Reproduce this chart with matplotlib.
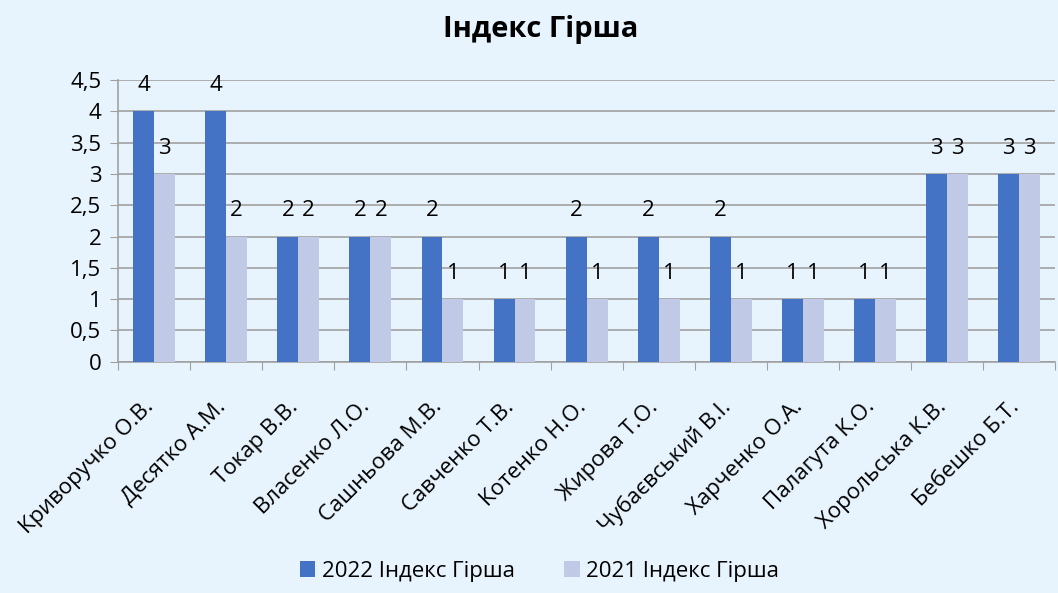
import matplotlib.pyplot as plt
import matplotlib.transforms as mtransforms
import numpy as np

plt.rcParams['font.family'] = ['Open Sans', 'DejaVu Sans']

# дані
names = ["Криворучко О.В.", "Десятко А.М.", "Токар В.В.", "Власенко Л.О.",
         "Сашньова М.В.", "Савченко Т.В.", "Котенко Н.О.", "Жирова Т.О.",
         "Чубаєвський В.І.", "Харченко О.А.", "Палагута К.О.",
         "Хорольська К.В.", "Бебешко Б.Т."]
h2022 = [4, 4, 2, 2, 2, 1, 2, 2, 2, 1, 1, 3, 3]
h2021 = [3, 2, 2, 2, 1, 1, 1, 1, 1, 1, 1, 3, 3]
yticks = [0, 0.5, 1, 1.5, 2, 2.5, 3, 3.5, 4, 4.5]
ytick_labels = ["0", "0,5", "1", "1,5", "2", "2,5", "3", "3,5", "4", "4,5"]

bg = "#E8F4FD"
c2022 = "#4472C4"
c2021 = "#C0CAE6"
fs = 16

fig = plt.figure(figsize=(10.58, 5.93), dpi=100, facecolor=bg)
ax = fig.add_axes([0.1115, 0.39, 0.886, 0.475])
ax.set_facecolor(bg)

x = np.arange(len(names))
w = 0.29
b1 = ax.bar(x - w / 2, h2022, w, color=c2022, label="2022 Індекс Гірша", zorder=3)
b2 = ax.bar(x + w / 2, h2021, w, color=c2021, label="2021 Індекс Гірша", zorder=3)
for bars in (b1, b2):
    ax.bar_label(bars, padding=11, fontsize=fs)

ax.set_xlim(-0.5, len(names) - 0.5)
ax.set_ylim(0, 4.5)
ax.set_yticks(yticks)
ax.set_yticklabels(ytick_labels, fontsize=fs)
ax.yaxis.grid(True, color="#A0A0A0", linewidth=1.2, zorder=0)

ax.set_xticks(np.arange(len(names) + 1) - 0.5, minor=False)
ax.set_xticklabels([])
ax.set_xticks(x, minor=True)
ax.set_xticklabels(names, minor=True, rotation=45, ha="right",
                   rotation_mode="anchor", fontsize=fs)
ax.tick_params(axis="x", which="minor", length=0, pad=25)
ax.tick_params(axis="x", which="major", length=6, color="#A0A0A0")
ax.tick_params(axis="y", length=6, color="#A0A0A0", pad=6)

# зсув підписів трохи ліворуч
shift = mtransforms.ScaledTranslation(-8 / 72, 0, fig.dpi_scale_trans)
for lbl in ax.get_xticklabels(minor=True):
    lbl.set_transform(lbl.get_transform() + shift)

for s in ["top", "right"]:
    ax.spines[s].set_visible(False)
for s in ["left", "bottom"]:
    ax.spines[s].set_color("#A0A0A0")
    ax.spines[s].set_linewidth(1.2)

fig.suptitle("Індекс Гірша", fontsize=21, fontweight="bold", x=0.511, y=0.975)
fig.legend(loc="lower center", ncol=2, frameon=False, fontsize=fs,
           bbox_to_anchor=(0.51, -0.015), handlelength=0.7, handleheight=0.7,
           columnspacing=2.2, handletextpad=0.3)

fig.savefig("out.png", dpi=100, facecolor=bg)
